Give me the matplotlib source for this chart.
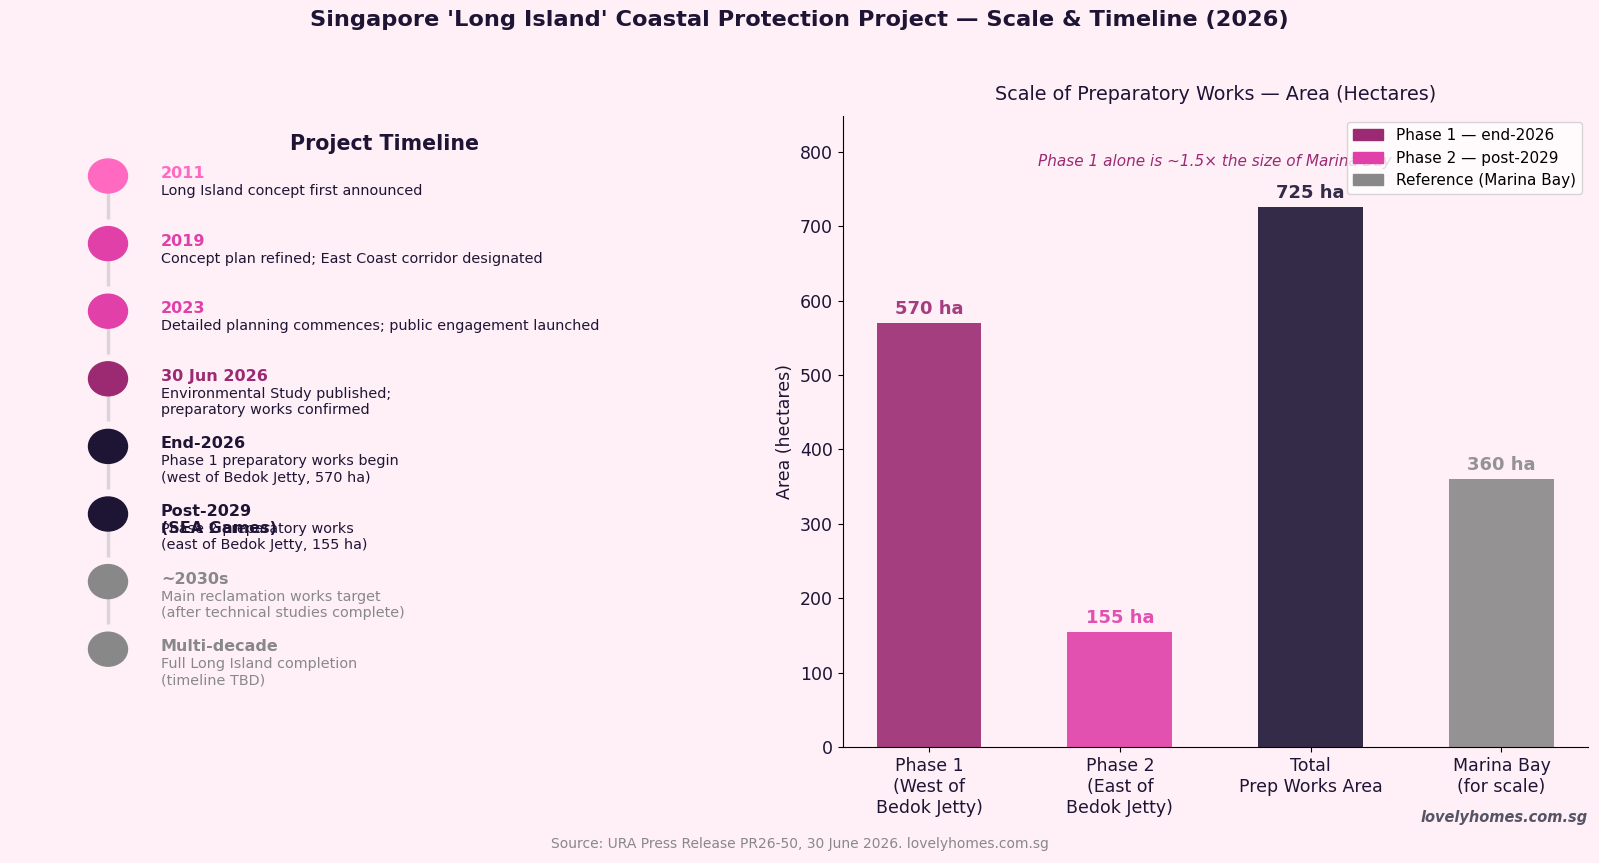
import matplotlib.pyplot as plt
from matplotlib.patches import Ellipse, Patch

BG = '#FFF0F8'
DARK = '#1E1535'
GREY = '#888888'

# timeline data
tl_labels = ['2011', '2019', '2023', '30 Jun 2026', 'End-2026',
             'Post-2029\n(SEA Games)', '~2030s', 'Multi-decade']
tl_descs = ['Long Island concept first announced',
            'Concept plan refined; East Coast corridor designated',
            'Detailed planning commences; public engagement launched',
            'Environmental Study published;\npreparatory works confirmed',
            'Phase 1 preparatory works begin\n(west of Bedok Jetty, 570 ha)',
            'Phase 2 preparatory works\n(east of Bedok Jetty, 155 ha)',
            'Main reclamation works target\n(after technical studies complete)',
            'Full Long Island completion\n(timeline TBD)']
tl_colors = ['#FF69C0', '#E040A8', '#E040A8', '#9B2A72',
             DARK, DARK, GREY, GREY]
tl_textcolors = [DARK, DARK, DARK, DARK, DARK, DARK, GREY, GREY]

# bar data
bar_cats = ['Phase 1\n(West of\nBedok Jetty)', 'Phase 2\n(East of\nBedok Jetty)',
            'Total\nPrep Works Area', 'Marina Bay\n(for scale)']
bar_vals = [570, 155, 725, 360]
bar_colors = ['#9B2A72', '#E040A8', DARK, '#888888']
legend_labels = ['Phase 1 — end-2026', 'Phase 2 — post-2029', 'Reference (Marina Bay)']

fig = plt.figure(figsize=(15.99, 8.63), dpi=100, facecolor=BG)

# ---- left: timeline (axes in pixel units) ----
axl = fig.add_axes([0, 0, 0.5, 1])
axl.set_xlim(0, 799.5)
axl.set_ylim(863, 0)
axl.axis('off')
axl.set_facecolor(BG)

y0 = 176
step = 67.6
cx = 108
tx = 161
axl.text(384, 144, 'Project Timeline', ha='center', va='center',
         fontsize=14.8, fontweight='bold', color=DARK)
n = len(tl_labels)
for i, (lab, desc, c, tc) in enumerate(zip(tl_labels, tl_descs, tl_colors, tl_textcolors)):
    y = y0 + i * step
    if i < n - 1:
        axl.plot([cx, cx], [y, y + 0.63 * step], color='#DDD4DA', lw=2.5,
                 solid_capstyle='butt', zorder=1)
    axl.add_patch(Ellipse((cx, y), 39, 34, color=c, zorder=2))
    axl.text(tx, y - 10, lab, ha='left', va='top', fontsize=11.5,
             fontweight='bold', color=c)
    axl.text(tx, y + 8, desc, ha='left', va='top', fontsize=10.4, color=tc)

# ---- right: bar chart ----
ax = fig.add_axes([0.527, 0.134, 0.466, 0.732])
ax.set_facecolor(BG)
bars = ax.bar(range(len(bar_vals)), bar_vals, width=0.55, color=bar_colors, alpha=0.9)
for b, v, c in zip(bars, bar_vals, bar_colors):
    ax.text(b.get_x() + b.get_width() / 2, v + 7, f'{v} ha', ha='center', va='bottom',
            fontsize=13, fontweight='bold', color=c, alpha=0.9)
ax.set_xticks(range(len(bar_cats)))
ax.set_xticklabels(bar_cats, fontsize=12.5, color=DARK)
ax.tick_params(axis='y', labelsize=12.5, labelcolor=DARK)
ax.set_ylim(0, 725 * 1.17)
ax.set_ylabel('Area (hectares)', fontsize=12.5, color=DARK)
ax.set_title('Scale of Preparatory Works — Area (Hectares)', fontsize=13.8,
             color=DARK, pad=11)
ax.spines['top'].set_visible(False)
ax.spines['right'].set_visible(False)
ax.text(1.5, 725 * 1.085, 'Phase 1 alone is ~1.5× the size of Marina Bay', ha='center',
        va='center', fontsize=11, style='italic', color='#9B2A72')
handles = [Patch(color=c) for c in [bar_colors[0], bar_colors[1], bar_colors[3]]]
ax.legend(handles, legend_labels, loc='upper right', fontsize=11,
          facecolor='white', framealpha=0.8, borderaxespad=0.4)

fig.suptitle("Singapore 'Long Island' Coastal Protection Project — Scale & Timeline (2026)",
             fontsize=16.2, fontweight='bold', color=DARK, y=0.988)
fig.text(0.5, 0.022, 'Source: URA Press Release PR26-50, 30 June 2026. lovelyhomes.com.sg',
         ha='center', va='center', fontsize=10, color=GREY)
fig.text(0.993, 0.053, 'lovelyhomes.com.sg', ha='right', va='center', fontsize=10.5,
         fontweight='bold', style='italic', color='#555566')

fig.savefig('out.png', dpi=100, facecolor=BG)
plt.close()
